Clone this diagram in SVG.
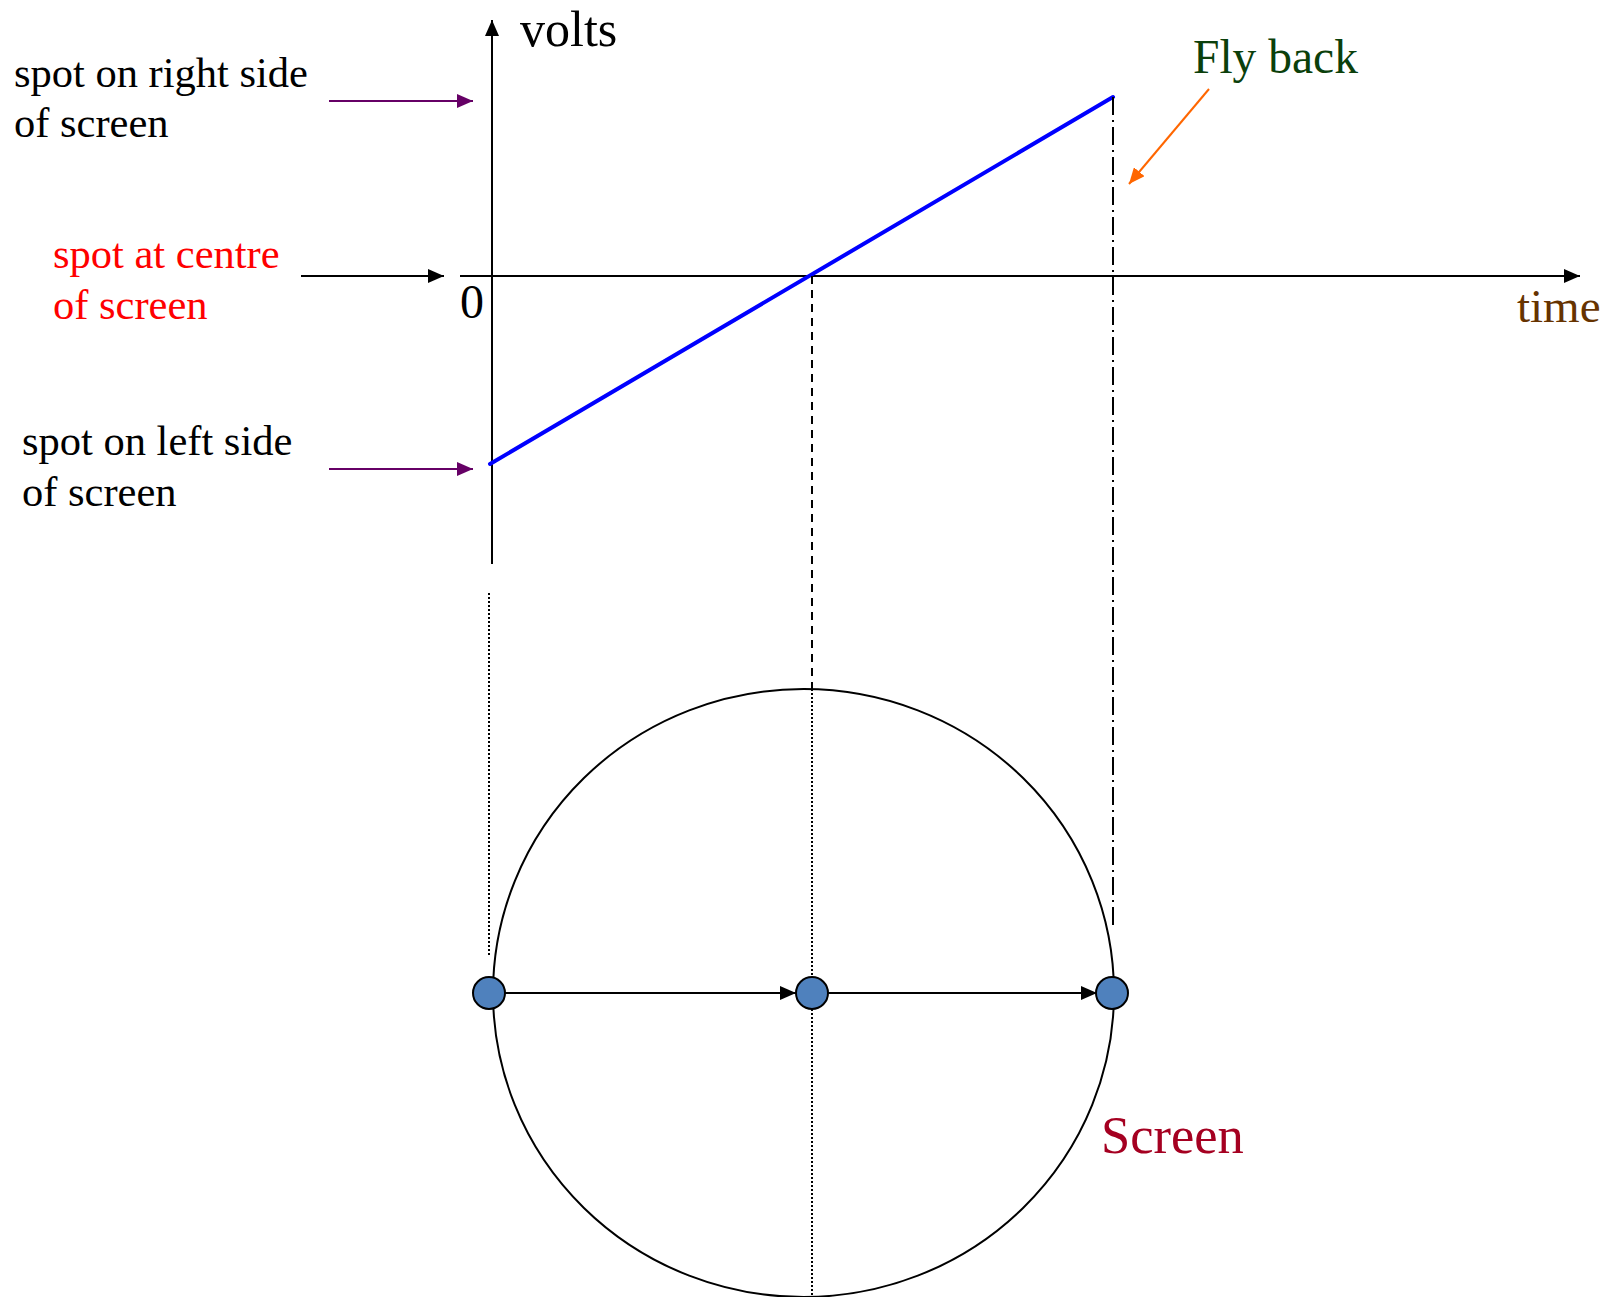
<svg xmlns="http://www.w3.org/2000/svg" width="1621" height="1297" viewBox="0 0 1621 1297">
  <style>
    text { font-family: "Liberation Serif", "Times New Roman", serif; }
    .lbl { font-size: 42.5px; fill: #000000; }
    .red { fill: #FF0000; }
    .ln { fill: none; stroke: #000000; stroke-width: 2; }
    .spot { fill: #4F81BD; stroke: #000000; stroke-width: 2; }
  </style>
  <defs>
    <marker id="ahBlack" markerUnits="userSpaceOnUse" markerWidth="16" markerHeight="14" refX="16" refY="7" orient="auto">
      <path d="M0,0 L16,7 L0,14 z" fill="#000000"/>
    </marker>
    <marker id="ahPurple" markerUnits="userSpaceOnUse" markerWidth="16" markerHeight="14" refX="16" refY="7" orient="auto">
      <path d="M0,0 L16,7 L0,14 z" fill="#660066"/>
    </marker>
    <marker id="ahOrange" markerUnits="userSpaceOnUse" markerWidth="16" markerHeight="14" refX="16" refY="7" orient="auto">
      <path d="M0,0 L16,7 L0,14 z" fill="#FF6600"/>
    </marker>
  </defs>

  <g id="screen-circle">
    <ellipse cx="803.5" cy="993" rx="310.5" ry="304" fill="none" stroke="#000000" stroke-width="2"/>
  </g>

  <g id="connectors">
    <line class="ln" x1="492" y1="564" x2="492" y2="20" marker-end="url(#ahBlack)"/>
    <line class="ln" x1="460" y1="276" x2="1580" y2="276" marker-end="url(#ahBlack)"/>
    <line x1="329" y1="101" x2="473" y2="101" stroke="#660066" stroke-width="2" marker-end="url(#ahPurple)"/>
    <line x1="301" y1="276" x2="444" y2="276" stroke="#000000" stroke-width="2" marker-end="url(#ahBlack)"/>
    <line x1="329" y1="469" x2="473" y2="469" stroke="#660066" stroke-width="2" marker-end="url(#ahPurple)"/>
    <line x1="1209" y1="89" x2="1129" y2="184" stroke="#FF6600" stroke-width="2" marker-end="url(#ahOrange)"/>
    <line x1="490" y1="464" x2="1113" y2="97" stroke="#0000FF" stroke-width="4" stroke-linecap="round"/>
    <line class="ln" x1="489" y1="593" x2="489" y2="956" stroke-width="1.6" stroke-dasharray="2,2"/>
    <line class="ln" x1="812" y1="276" x2="812" y2="689" stroke-width="1.8" stroke-dasharray="8,6"/>
    <line class="ln" x1="812" y1="689" x2="812" y2="1297" stroke-width="1.6" stroke-dasharray="2,2"/>
    <line class="ln" x1="1113" y1="97" x2="1113" y2="925" stroke-width="2" stroke-dasharray="18,5,2,5"/>
    <line x1="505" y1="993" x2="796" y2="993" stroke="#000000" stroke-width="2" marker-end="url(#ahBlack)"/>
    <line x1="828" y1="993" x2="1097" y2="993" stroke="#000000" stroke-width="2" marker-end="url(#ahBlack)"/>
  </g>

  <g id="label-right">
    <text class="lbl" x="14" y="87">spot on right side</text>
    <text class="lbl" x="14" y="137">of screen</text>
  </g>
  <g id="label-centre">
    <text class="lbl red" x="53" y="268">spot at centre</text>
    <text class="lbl red" x="53" y="319">of screen</text>
  </g>
  <g id="label-left">
    <text class="lbl" x="22" y="455">spot on left side</text>
    <text class="lbl" x="22" y="506">of screen</text>
  </g>
  <g id="label-volts">
    <text x="520" y="46" font-size="50" fill="#000000">volts</text>
  </g>
  <g id="label-zero">
    <text x="460" y="318" font-size="48" fill="#000000">0</text>
  </g>
  <g id="label-time">
    <text x="1517" y="322" font-size="47" fill="#663300">time</text>
  </g>
  <g id="label-flyback">
    <text x="1193" y="73" font-size="47.5" fill="#0B400B">Fly back</text>
  </g>
  <g id="label-screen">
    <text x="1101" y="1153" font-size="52.5" fill="#A50021">Screen</text>
  </g>

  <g id="spot-left"><ellipse class="spot" cx="489" cy="993" rx="16" ry="16"/></g>
  <g id="spot-centre"><ellipse class="spot" cx="812" cy="993" rx="16" ry="16"/></g>
  <g id="spot-right"><ellipse class="spot" cx="1112" cy="993" rx="16" ry="16"/></g>
</svg>
